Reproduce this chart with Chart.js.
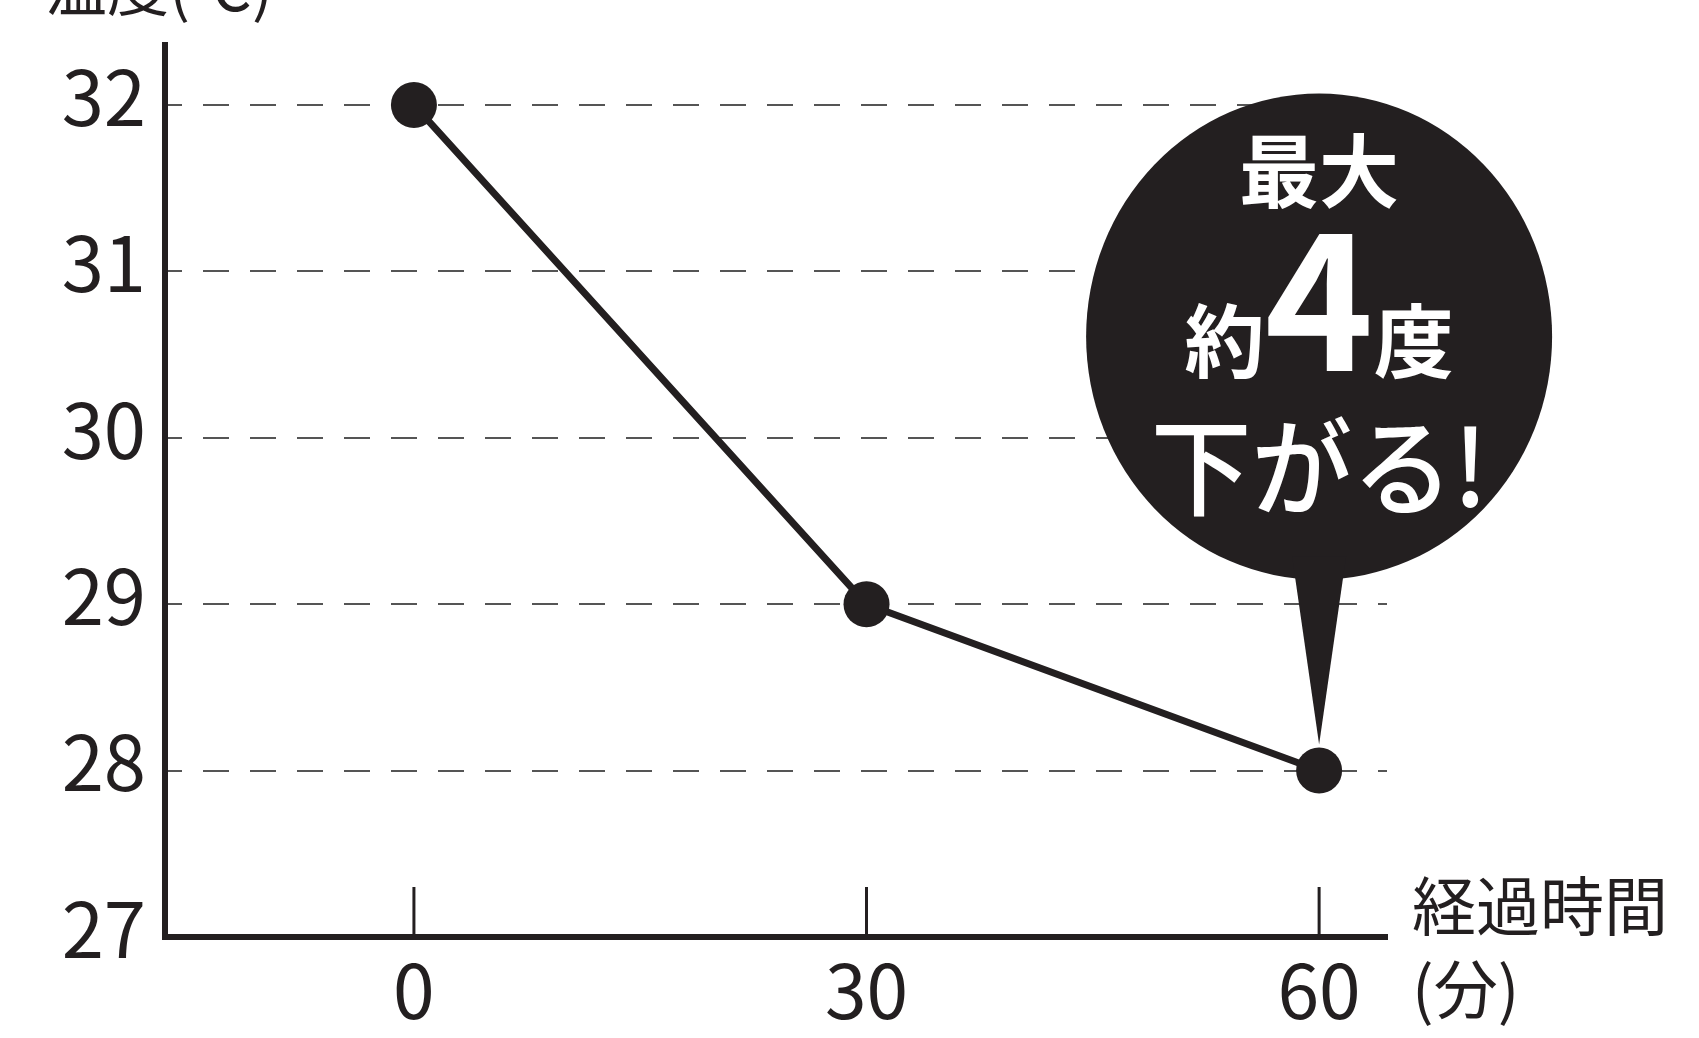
<!DOCTYPE html>
<html lang="ja">
<head>
<meta charset="utf-8">
<title>温度の変化</title>
<script src="https://cdn.jsdelivr.net/npm/chart.js@4.4.1/dist/chart.umd.min.js"></script>
<style>
  html, body { margin: 0; padding: 0; background: #fff; }
  canvas { display: block; }
</style>
</head>
<body>
<canvas id="tempChart" width="1699" height="1038"></canvas>
<script>
// elapsed minutes and measured temperature
const minutes = [0, 30, 60];
const temperatures = [32, 29, 28];
const xTicks = [0, 30, 60];
const yTicks = [27, 28, 29, 30, 31, 32];
const yTitle = '温度(℃)';
const xTitle = ['経過時間', '(分)'];

const ink = '#231f20';
const jp = "'Noto Sans CJK JP', 'Noto Sans', sans-serif";

// titles, tick marks and the speech balloon
const annotations = {
    id: 'annotations',
    afterDatasetsDraw(chart) {
        const {ctx, chartArea, scales: {x, y}} = chart;
        ctx.save();

        // short tick marks pointing up from the x axis
        ctx.strokeStyle = ink;
        ctx.lineWidth = 3;
        xTicks.forEach(v => {
            const px = x.getPixelForValue(v);
            ctx.beginPath();
            ctx.moveTo(px, chartArea.bottom);
            ctx.lineTo(px, chartArea.bottom - 50);
            ctx.stroke();
        });

        // axis titles
        ctx.fillStyle = ink;
        ctx.textAlign = 'left';
        ctx.textBaseline = 'alphabetic';
        ctx.font = `400 62px ${jp}`;
        ctx.fillText(yTitle, 45, 11);
        ctx.font = `400 64px ${jp}`;
        ctx.fillText(xTitle[0], chartArea.right + 25, chartArea.bottom - 7);
        ctx.fillText(xTitle[1], chartArea.right + 25, chartArea.bottom + 76);

        // balloon anchored on the last point
        const last = temperatures.length - 1;
        const ax = x.getPixelForValue(minutes[last]);
        const ay = y.getPixelForValue(temperatures[last]);
        const cx = ax, cy = ay - 434;
        ctx.fillStyle = ink;
        ctx.beginPath();
        ctx.ellipse(cx, cy, 233, 243, 0, 0, Math.PI * 2);
        ctx.fill();
        ctx.beginPath();
        ctx.moveTo(cx - 27, cy + 220);
        ctx.lineTo(cx + 27, cy + 220);
        ctx.lineTo(ax, ay - 26);
        ctx.closePath();
        ctx.fill();

        ctx.fillStyle = '#fff';
        ctx.textAlign = 'center';
        ctx.font = `700 80px ${jp}`;
        ctx.fillText('最大', cx, cy - 136);

        const parts = [['約', `700 80px ${jp}`], ['4', `700 185px ${jp}`], ['度', `700 80px ${jp}`]];
        ctx.textAlign = 'left';
        let total = 0;
        parts.forEach(p => { ctx.font = p[1]; total += ctx.measureText(p[0]).width; });
        let px = cx - total / 2;
        parts.forEach(p => {
            ctx.font = p[1];
            ctx.fillText(p[0], px, cy + 34);
            px += ctx.measureText(p[0]).width;
        });

        ctx.textAlign = 'center';
        ctx.font = `500 106px ${jp}`;
        ctx.save();
        ctx.translate(cx, cy + 170);
        ctx.scale(0.95, 1);
        ctx.fillText('下がる!', 0, 0);
        ctx.restore();

        ctx.restore();
    }
};

new Chart(document.getElementById('tempChart'), {
    type: 'line',
    data: {
        datasets: [{
            data: minutes.map((m, i) => ({x: m, y: temperatures[i]})),
            borderColor: ink,
            borderWidth: 7,
            pointRadius: 23,
            pointBackgroundColor: ink,
            pointBorderWidth: 0,
            tension: 0,
            clip: false
        }]
    },
    options: {
        responsive: false,
        animation: false,
        devicePixelRatio: 1,
        layout: {
            padding: {top: 45, right: 312, left: 0, bottom: 0}
        },
        plugins: {
            legend: {display: false},
            tooltip: {enabled: false}
        },
        scales: {
            x: {
                type: 'linear',
                min: -16.5,
                max: 64.5,
                afterBuildTicks: s => { s.ticks = xTicks.map(v => ({value: v})); },
                afterFit: s => {
                    s.height = 101;
                    s.paddingLeft = s.paddingRight = s.paddingTop = s.paddingBottom = 0;
                },
                grid: {display: false},
                border: {display: true, color: ink, width: 6},
                ticks: {
                    color: ink,
                    padding: 0,
                    font: {family: jp, size: 75}
                }
            },
            y: {
                min: 27,
                max: 32.36,
                afterBuildTicks: s => { s.ticks = yTicks.map(v => ({value: v})); },
                afterFit: s => {
                    s.width = 165;
                    s.paddingLeft = s.paddingRight = s.paddingTop = s.paddingBottom = 0;
                },
                grid: {
                    drawTicks: false,
                    lineWidth: 2,
                    color: c => (c.tick && c.tick.value === 27) ? 'rgba(0,0,0,0)' : '#555'
                },
                border: {display: true, color: ink, width: 6, dash: [26, 21], dashOffset: 12},
                ticks: {
                    color: ink,
                    padding: 19,
                    labelOffset: -8,
                    font: {family: jp, size: 76}
                }
            }
        }
    },
    plugins: [annotations]
});
</script>
</body>
</html>
